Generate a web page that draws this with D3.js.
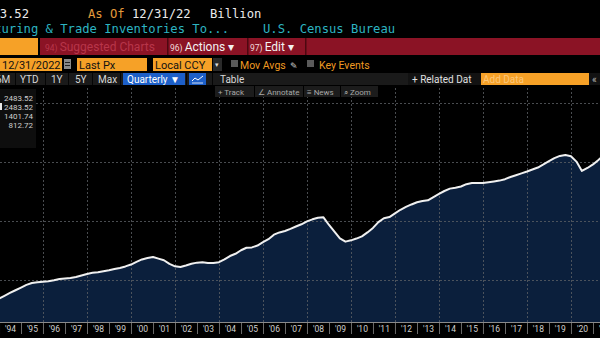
<!DOCTYPE html>
<html><head><meta charset="utf-8">
<script src="https://cdn.jsdelivr.net/npm/d3@7/dist/d3.min.js"></script>
<style>
html,body{margin:0;padding:0;background:#000;overflow:hidden;}
svg{display:block;}
</style></head><body>
<svg id="c" width="600" height="338"></svg>
<script>
// ---------- DATA ----------
// Manufacturing & Trade Inventories Total (USD bn), quarterly, first point = Q4 1993
const quarterValues = [
  843,
  866, 890, 913, 936,      // 1994
  959, 975, 981, 986,      // 1995
  990, 998, 1008, 1013,    // 1996
  1017, 1025, 1038, 1051,  // 1997
  1061, 1066, 1074, 1083,  // 1998
  1093, 1102, 1115, 1131,  // 1999
  1154, 1174, 1186, 1195,  // 2000
  1181, 1167, 1136, 1116,  // 2001
  1110, 1123, 1138, 1147,  // 2002
  1150, 1144, 1144, 1151,  // 2003
  1174, 1203, 1222, 1252,  // 2004
  1273, 1276, 1292, 1320,  // 2005
  1346, 1384, 1403, 1415,  // 2006
  1433, 1453, 1472, 1497,  // 2007
  1514, 1527, 1531, 1466,  // 2008
  1410, 1353, 1325, 1336,  // 2009
  1351, 1370, 1403, 1441,  // 2010
  1490, 1523, 1533, 1564,  // 2011
  1595, 1619, 1640, 1659,  // 2012
  1670, 1675, 1703, 1729,  // 2013
  1754, 1774, 1782, 1792,  // 2014
  1812, 1822, 1822, 1822,  // 2015
  1828, 1835, 1842, 1854,  // 2016
  1873, 1888, 1903, 1919,  // 2017
  1936, 1953, 1979, 2007,  // 2018
  2032, 2051, 2059, 2049,  // 2019
  2003, 1924, 1949, 1979,  // 2020
  2017, 2060, 2130, 2220,  // 2021
  2310, 2400, 2450, 2483.52 // 2022
];
const axisYears = [1994,1995,1996,1997,1998,1999,2000,2001,2002,2003,2004,2005,2006,2007,
                   2008,2009,2010,2011,2012,2013,2014,2015,2016,2017,2018,2019,2020,2021];
const yearLabels = ["'94","'95","'96","'97","'98","'99","'00","'01","'02","'03","'04","'05","'06","'07",
                    "'08","'09","'10","'11","'12","'13","'14","'15","'16","'17","'18","'19","'20","'21"];
const gridYears = [1996,1998,2000,2002,2004,2006,2008,2010,2012,2014,2016,2018,2020];
const gridValues = [1000, 1500, 2000, 2500];
const legendValues = ["2483.52", "2483.52", "1401.74", "812.72"]; // last, high, average, low
const headerLast = "2483.52";
const headerAsOf = "12/31/22";
const headerUnit = "Billion";
const headerTitle = "Manufacturing & Trade Inventories To...";
const headerSource = "U.S. Census Bureau";

// ---------- SETUP ----------
const svg = d3.select("#c");
const W = 600, H = 338;
const plotTop = 88, plotBottom = 322;
const mono = "'DejaVu Sans Mono', monospace";
const sans = "Roboto, 'Liberation Sans', sans-serif";
const ORANGE = "#f6a127";

svg.append("rect").attr("width", W).attr("height", H).attr("fill", "#000");

const data = quarterValues.map((v, i) => ({ date: new Date(1994, 3 * i, 1), v }));

const x = d3.scaleTime()
  .domain([new Date(1995, 0, 1), new Date(2021, 0, 1)])
  .range([21, 593]);
const y = d3.scaleLinear()
  .domain([644, 2542])
  .range([plotBottom, 98]);

// ---------- PLOT ----------
svg.append("clipPath").attr("id", "clip")
  .append("rect").attr("x", 0).attr("y", plotTop).attr("width", W).attr("height", plotBottom - plotTop);
const plot = svg.append("g").attr("clip-path", "url(#clip)");

const area = d3.area().x(d => x(d.date)).y0(plotBottom).y1(d => y(d.v));
const line = d3.line().x(d => x(d.date)).y(d => y(d.v));

plot.append("path").datum(data).attr("d", area).attr("fill", "#0b1f3c");

// gridlines (dotted)
const gridG = plot.append("g").attr("shape-rendering", "crispEdges");
gridG.selectAll(".vg").data(gridYears).join("line")
  .attr("x1", d => Math.round(x(new Date(d, 0, 1))) + 0.5)
  .attr("x2", d => Math.round(x(new Date(d, 0, 1))) + 0.5)
  .attr("y1", plotTop).attr("y2", plotBottom)
  .attr("stroke", "#5c5f64").attr("stroke-width", 1).attr("stroke-dasharray", "2,2")
  .attr("opacity", 0.8);
gridG.selectAll(".hg").data(gridValues).join("line")
  .attr("x1", 0).attr("x2", W)
  .attr("y1", d => Math.round(y(d)) + 0.5).attr("y2", d => Math.round(y(d)) + 0.5)
  .attr("stroke", "#5c5f64").attr("stroke-width", 1).attr("stroke-dasharray", "2,2")
  .attr("opacity", 0.8);

plot.append("path").datum(data).attr("d", line)
  .attr("fill", "none").attr("stroke", "#f0f0f0").attr("stroke-width", 2)
  .attr("stroke-linejoin", "round");

// ---------- X AXIS ----------
svg.append("rect").attr("x", 0).attr("y", plotBottom).attr("width", W).attr("height", H - plotBottom).attr("fill", "#000");
svg.append("line").attr("x1", 0).attr("x2", W).attr("y1", plotBottom + 0.5).attr("y2", plotBottom + 0.5)
  .attr("stroke", "#8a8a8a");

const sepAxis = d3.axisBottom(x)
  .tickValues(axisYears.map(yr => new Date(yr, 0, 1)))
  .tickSize(11).tickFormat("");
const gSep = svg.append("g").attr("transform", `translate(0,${plotBottom + 1})`).call(sepAxis);
gSep.select(".domain").remove();
gSep.selectAll(".tick line").attr("stroke", "#6a6a6a");

const labAxis = d3.axisBottom(x)
  .tickValues(axisYears.map(yr => new Date(yr, 6, 1)))
  .tickSize(0).tickPadding(3)
  .tickFormat((d, i) => yearLabels[i]);
const gLab = svg.append("g").attr("transform", `translate(0,${plotBottom + 1})`).call(labAxis);
gLab.select(".domain").remove();
gLab.selectAll(".tick text").attr("fill", "#d0d0d0").attr("font-family", sans).attr("font-size", 8.5);

// ---------- LEGEND BOX ----------
svg.append("rect").attr("x", 0).attr("y", 89).attr("width", 36).attr("height", 59).attr("fill", "#0e0e0e");
svg.append("rect").attr("x", 0).attr("y", 103).attr("width", 2).attr("height", 7).attr("fill", "#e8e8e8");
svg.selectAll(".lg").data(legendValues).join("text")
  .attr("x", 33).attr("y", (d, i) => 100.5 + i * 9.3)
  .attr("text-anchor", "end").attr("fill", "#cfcfcf")
  .attr("font-family", sans).attr("font-size", 8).text(d => d);

// ---------- HEADER ----------
const hdr = svg.append("g");
// row 1
hdr.append("text").attr("x", 29).attr("y", 18).attr("text-anchor", "end").attr("fill", "#ececec")
  .attr("font-family", mono).attr("font-size", 12.2).text(headerLast);
hdr.append("text").attr("x", 88).attr("y", 18).attr("fill", "#e39a3b")
  .attr("font-family", mono).attr("font-size", 12.2).text("As Of");
hdr.append("text").attr("x", 132).attr("y", 18).attr("fill", "#ececec")
  .attr("font-family", mono).attr("font-size", 12.2).text(headerAsOf);
hdr.append("text").attr("x", 210).attr("y", 18).attr("fill", "#ececec")
  .attr("font-family", mono).attr("font-size", 12.2).text(headerUnit);
// row 2
hdr.append("text").attr("x", 229).attr("y", 33).attr("text-anchor", "end").attr("fill", "#2db4c2")
  .attr("font-family", mono).attr("font-size", 12.2).text(headerTitle);
hdr.append("text").attr("x", 263).attr("y", 33).attr("fill", "#2db4c2")
  .attr("font-family", mono).attr("font-size", 12.2).text(headerSource);

// row 3 : red toolbar
hdr.append("rect").attr("x", 0).attr("y", 38).attr("width", 38).attr("height", 17).attr("fill", ORANGE);
hdr.append("rect").attr("x", 40).attr("y", 38).attr("width", 560).attr("height", 17).attr("fill", "#8b1325");
[167, 247, 305].forEach(px => hdr.append("rect").attr("x", px).attr("y", 38).attr("width", 1.5).attr("height", 17).attr("fill", "#4d0810"));
function btn(xp, num, label, col, numCol) {
  const t = hdr.append("text").attr("x", xp).attr("y", 51).attr("font-family", sans).attr("font-size", 12).attr("fill", col);
  t.append("tspan").attr("font-size", 8.5).attr("fill", numCol).text(num + " ");
  t.append("tspan").text(label);
}
btn(45, "94)", "Suggested Charts", "#b8364a", "#b8364a");
btn(170, "96)", "Actions \u25BE", "#f2f2f2", "#f2dada");
btn(250, "97)", "Edit \u25BE", "#f2f2f2", "#f2dada");

// row 4 : fields
function field(x0, w, label) {
  hdr.append("rect").attr("x", x0).attr("y", 58).attr("width", w).attr("height", 13).attr("fill", ORANGE);
  hdr.append("text").attr("x", x0 + 2).attr("y", 68.5).attr("font-family", sans).attr("font-size", 11)
    .attr("fill", "#111").text(label);
}
field(0, 62, "12/31/2022");
hdr.append("rect").attr("x", 64).attr("y", 59).attr("width", 7).attr("height", 10).attr("fill", "#8a8a8a");
hdr.append("rect").attr("x", 65).attr("y", 62).attr("width", 5).attr("height", 1).attr("fill", "#222");
hdr.append("rect").attr("x", 65).attr("y", 65).attr("width", 5).attr("height", 1).attr("fill", "#222");
field(77, 70, "Last Px");
field(153, 59, "Local CCY");
hdr.append("rect").attr("x", 213).attr("y", 58).attr("width", 9).attr("height", 13).attr("fill", "#2a2a2a");
hdr.append("text").attr("x", 215).attr("y", 67).attr("font-family", sans).attr("font-size", 7).attr("fill", "#ddd").text("\u25BE");
hdr.append("rect").attr("x", 231).attr("y", 60).attr("width", 7).attr("height", 7).attr("fill", "#5a5a5a");
hdr.append("text").attr("x", 240).attr("y", 69).attr("font-family", sans).attr("font-size", 10.5).attr("fill", "#ef9a22").text("Mov Avgs");
hdr.append("text").attr("x", 290).attr("y", 69).attr("font-family", "'DejaVu Sans', sans-serif").attr("font-size", 9).attr("fill", "#cfcfcf").text("\u270E");
hdr.append("rect").attr("x", 307).attr("y", 60).attr("width", 7).attr("height", 7).attr("fill", "#5a5a5a");
hdr.append("text").attr("x", 319).attr("y", 69).attr("font-family", sans).attr("font-size", 10.5).attr("fill", "#ef9a22").text("Key Events");

// row 5 : range buttons
hdr.append("rect").attr("x", 0).attr("y", 73).attr("width", 408).attr("height", 12).attr("fill", "#1a1a1a");
hdr.append("rect").attr("x", 408).attr("y", 73).attr("width", 192).attr("height", 12).attr("fill", "#121212");
[15, 45, 68, 92, 120, 186, 212].forEach(px => hdr.append("rect").attr("x", px).attr("y", 73).attr("width", 1).attr("height", 12).attr("fill", "#050505"));
const rangeBtns = [["6M", -4], ["YTD", 20], ["1Y", 51], ["5Y", 75], ["Max", 98]];
rangeBtns.forEach(([t, xp]) => hdr.append("text").attr("x", xp).attr("y", 83).attr("font-family", sans)
  .attr("font-size", 10).attr("fill", "#d8d8d8").text(t));
hdr.append("rect").attr("x", 123).attr("y", 73).attr("width", 62).attr("height", 12).attr("fill", "#1d5fc8");
hdr.append("text").attr("x", 127).attr("y", 83).attr("font-family", sans).attr("font-size", 10).attr("fill", "#fff").text("Quarterly \u25BC");
hdr.append("rect").attr("x", 189).attr("y", 73).attr("width", 17).attr("height", 12).attr("fill", "#1d5fc8");
hdr.append("path").attr("d", "M192,81 L195,78 L198,80 L203,76").attr("fill", "none").attr("stroke", "#fff").attr("stroke-width", 1);
hdr.append("line").attr("x1", 192).attr("x2", 203).attr("y1", 83).attr("y2", 83).attr("stroke", "#fff").attr("stroke-width", 0.8);
hdr.append("text").attr("x", 220).attr("y", 83).attr("font-family", sans).attr("font-size", 10).attr("fill", "#d8d8d8").text("Table");
hdr.append("text").attr("x", 412).attr("y", 83).attr("font-family", sans).attr("font-size", 10).attr("fill", "#e0e0e0").text("+ Related Dat");
hdr.append("rect").attr("x", 481).attr("y", 73).attr("width", 108).attr("height", 12).attr("fill", ORANGE);
hdr.append("text").attr("x", 483).attr("y", 83).attr("font-family", sans).attr("font-size", 10).attr("fill", "#fcc77a").text("Add Data");
hdr.append("text").attr("x", 592).attr("y", 83).attr("font-family", sans).attr("font-size", 10).attr("fill", "#bbb").text("\u00AB");

// row 6 : chart tools
const tools = [[215, 39, "+ Track"], [255, 48, "\u2220 Annotate"], [304, 36, "\u2261 News"], [341, 37, "\u2315 Zoom"]];
tools.forEach(([x0, w, t]) => {
  hdr.append("rect").attr("x", x0).attr("y", 86).attr("width", w).attr("height", 11).attr("fill", "#1c1c1c");
  hdr.append("text").attr("x", x0 + 3).attr("y", 94.5).attr("font-family", sans).attr("font-size", 8)
    .attr("fill", "#a8a8a8").text(t);
});
</script>
</body></html>
